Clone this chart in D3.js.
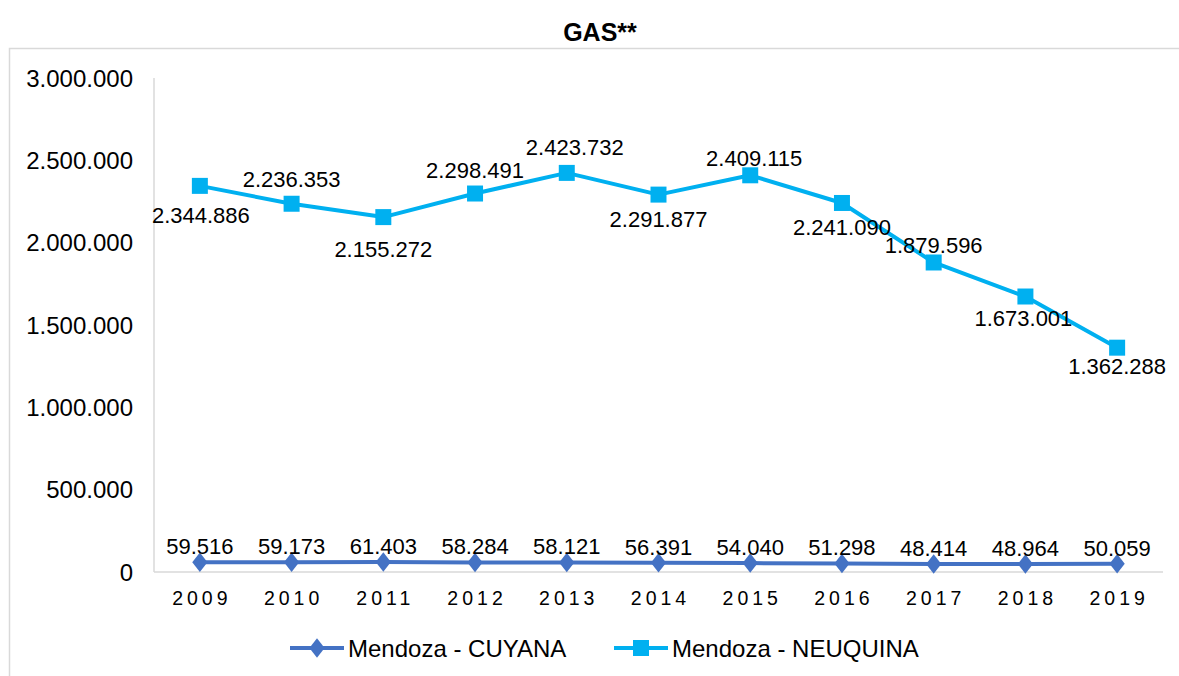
<!DOCTYPE html>
<html lang="es">
<head>
<meta charset="UTF-8">
<title>GAS**</title>
<script src="https://d3js.org/d3.v7.min.js"></script>
<style>
    body { margin: 0; background: #fff; }
    svg text { font-family: "Liberation Sans", Arial, sans-serif; fill: #000; }
</style>
</head>
<body>
<svg id="chart" width="1179" height="676"></svg>
<script>
    // data
    const years = ["2009", "2010", "2011", "2012", "2013", "2014", "2015", "2016", "2017", "2018", "2019"];
    const cuyana = [59516, 59173, 61403, 58284, 58121, 56391, 54040, 51298, 48414, 48964, 50059];
    const neuquina = [2344886, 2236353, 2155272, 2298491, 2423732, 2291877, 2409115, 2241090, 1879596, 1673001, 1362288];
    const yTicks = [0, 500000, 1000000, 1500000, 2000000, 2500000, 3000000];

    // label offsets (label centre relative to the point) for the NEUQUINA series
    const neuLabelDy = [29, -25, 32, -23, -26, 24, -17, 24, -17, 22, 18];
    const neuLabelDx = [1, 0, 0, 0, 8, 0, 4, 0, 0, -2, 0];

    const fmt = v => d3.format(",")(v).replace(/,/g, ".");

    const svg = d3.select("#chart");
    const margin = { left: 154, right: 1163, top: 78, bottom: 572 };

    // outer frame
    svg.append("rect")
        .attr("x", 9.5).attr("y", 48.5)
        .attr("width", 1200).attr("height", 700)
        .attr("fill", "none").attr("stroke", "#d9d9d9").attr("stroke-width", 1.5);

    svg.append("text")
        .attr("x", 600).attr("y", 41)
        .attr("text-anchor", "middle")
        .attr("font-size", 25).attr("font-weight", "bold")
        .text("GAS**");

    const x = d3.scaleBand().domain(years).range([margin.left, margin.right]);
    const y = d3.scaleLinear().domain([0, 3000000]).range([margin.bottom, margin.top]);
    const cx = d => x(d) + x.bandwidth() / 2;

    // axes
    svg.append("line")
        .attr("x1", margin.left).attr("x2", margin.left)
        .attr("y1", margin.top).attr("y2", margin.bottom)
        .attr("stroke", "#d9d9d9").attr("stroke-width", 1.5);
    svg.append("line")
        .attr("x1", margin.left).attr("x2", margin.right)
        .attr("y1", margin.bottom).attr("y2", margin.bottom)
        .attr("stroke", "#d9d9d9").attr("stroke-width", 1.5);

    svg.append("g").selectAll("text")
        .data(yTicks)
        .enter().append("text")
        .attr("x", 133)
        .attr("y", d => y(d))
        .attr("dy", "0.36em")
        .attr("text-anchor", "end")
        .attr("font-size", 24)
        .text(fmt);

    svg.append("g").selectAll("text")
        .data(years)
        .enter().append("text")
        .attr("x", d => cx(d) + 2)
        .attr("y", 605)
        .attr("text-anchor", "middle")
        .attr("font-size", 19.5)
        .attr("letter-spacing", "4px")
        .text(d => d);

    const line = d3.line().x(d => cx(d[0])).y(d => y(d[1]));

    function drawSeries(values, color, marker) {
        const pts = years.map((yr, i) => [yr, values[i]]);
        svg.append("path")
            .datum(pts)
            .attr("d", line)
            .attr("fill", "none")
            .attr("stroke", color)
            .attr("stroke-width", 4)
            .attr("stroke-linejoin", "round");
        svg.append("g").selectAll("path")
            .data(pts)
            .enter().append("path")
            .attr("d", d3.symbol().type(marker.type).size(marker.size))
            .attr("transform", d => marker.type === d3.symbolDiamond
                ? `translate(${cx(d[0])},${y(d[1])}) scale(1.35,1)`
                : `translate(${cx(d[0])},${y(d[1])})`)
            .attr("fill", color);
        return pts;
    }

    const cuyPts = drawSeries(cuyana, "#4472c4", { type: d3.symbolDiamond, size: 110 });
    const neuPts = drawSeries(neuquina, "#00b0f0", { type: d3.symbolSquare, size: 256 });

    svg.append("g").selectAll("text")
        .data(cuyPts)
        .enter().append("text")
        .attr("x", d => cx(d[0]))
        .attr("y", d => y(d[1]) - 16)
        .attr("dy", "0.36em")
        .attr("text-anchor", "middle")
        .attr("font-size", 22)
        .text(d => fmt(d[1]));

    svg.append("g").selectAll("text")
        .data(neuPts)
        .enter().append("text")
        .attr("x", (d, i) => cx(d[0]) + neuLabelDx[i])
        .attr("y", (d, i) => y(d[1]) + neuLabelDy[i])
        .attr("dy", "0.36em")
        .attr("text-anchor", "middle")
        .attr("font-size", 22)
        .text(d => fmt(d[1]));

    // legend
    const legend = [
        { name: "Mendoza - CUYANA", color: "#4472c4", type: d3.symbolDiamond, size: 110, x: 290 },
        { name: "Mendoza - NEUQUINA", color: "#00b0f0", type: d3.symbolSquare, size: 256, x: 614 }
    ];
    const lg = svg.append("g").selectAll("g")
        .data(legend)
        .enter().append("g")
        .attr("transform", d => `translate(${d.x},648)`);
    lg.append("line")
        .attr("x1", 0).attr("x2", 54)
        .attr("stroke", d => d.color).attr("stroke-width", 4);
    lg.append("path")
        .attr("d", d => d3.symbol().type(d.type).size(d.size)())
        .attr("transform", d => d.type === d3.symbolDiamond ? "translate(27,0) scale(1.35,1)" : "translate(27,0)")
        .attr("fill", d => d.color);
    lg.append("text")
        .attr("x", 58)
        .attr("dy", "0.36em")
        .attr("font-size", 24)
        .text(d => d.name);
</script>
</body>
</html>
